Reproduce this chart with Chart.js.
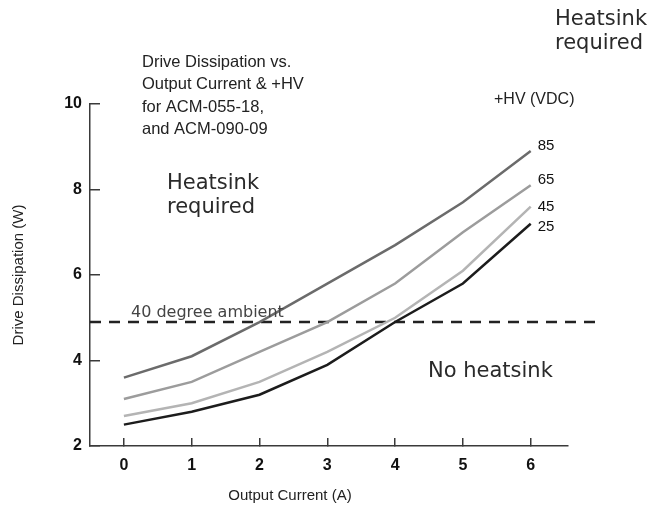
<!DOCTYPE html>
<html>
<head>
<meta charset="utf-8">
<script src="https://cdn.jsdelivr.net/npm/chart.js@4"></script>
<style>
  body { margin: 0; background: #fff; }
</style>
</head>
<body>
<canvas id="dissChart" width="658" height="508"></canvas>
<script>
// readings
const currents = [0, 1, 2, 3, 4, 5, 6];
const hv85 = [3.6, 4.1, 4.9, 5.8, 6.7, 7.7, 8.9];
const hv65 = [3.1, 3.5, 4.2, 4.9, 5.8, 7.0, 8.1];
const hv45 = [2.7, 3.0, 3.5, 4.2, 5.0, 6.1, 7.6];
const hv25 = [2.5, 2.8, 3.2, 3.9, 4.9, 5.8, 7.2];
const hvNames = ['85', '65', '45', '25'];
const yTicks = [2, 4, 6, 8, 10];
const ambientLevel = 4.9;
const ambientFrom = -0.5;
const ambientTo = 6.97;

const toPoints = vals => vals.map((v, i) => ({ x: currents[i], y: v }));

const lineColors = ['#6b6b6b', '#9c9c9c', '#b4b4b4', '#1c1c1c'];
const labelShift = [-5, -5, 0, 3];

const textPlugin = {
    id: 'sheetText',
    afterDraw(chart) {
        const ctx = chart.ctx;
        ctx.save();
        ctx.textAlign = 'left';

        // curve labels at the end of each line
        ctx.font = '15px "Liberation Sans", Arial, sans-serif';
        ctx.fillStyle = '#111';
        ctx.textBaseline = 'middle';
        hvNames.forEach((name, i) => {
            const pts = chart.getDatasetMeta(i).data;
            const last = pts[pts.length - 1];
            ctx.fillText(name, last.x + 7, last.y + labelShift[i]);
        });
        ctx.textBaseline = 'alphabetic';

        ctx.font = '16.5px "Liberation Sans", Arial, sans-serif';
        ctx.fillStyle = '#222';
        ['Drive Dissipation vs.', 'Output Current & +HV', 'for ACM-055-18,', 'and ACM-090-09']
            .forEach((t, i) => ctx.fillText(t, 142, 67 + i * 22.4));

        ctx.font = '16px "Liberation Sans", Arial, sans-serif';
        ctx.fillText('+HV (VDC)', 494, 104);

        ctx.fillStyle = '#2a2a2a';
        ctx.font = '21px "DejaVu Sans", sans-serif';
        ctx.fillText('Heatsink', 555, 25);
        ctx.fillText('required', 555, 49);
        ctx.fillText('Heatsink', 167, 189);
        ctx.fillText('required', 167, 213);
        ctx.fillText('No heatsink', 428, 377);

        ctx.fillStyle = '#444';
        ctx.font = '16px "DejaVu Sans", sans-serif';
        ctx.fillText('40 degree ambient', 131, 317);

        // axis titles
        ctx.fillStyle = '#222';
        ctx.font = '15px "Liberation Sans", Arial, sans-serif';
        ctx.textAlign = 'center';
        ctx.fillText('Output Current (A)', 290, 500);
        ctx.translate(23, 275);
        ctx.rotate(-Math.PI / 2);
        ctx.fillText('Drive Dissipation (W)', 0, 0);
        ctx.restore();
    }
};

const hvSeries = [hv85, hv65, hv45, hv25];

const datasets = hvSeries.map((vals, i) => ({
    label: hvNames[i],
    data: toPoints(vals),
    borderColor: lineColors[i],
    borderWidth: 2.5,
    pointRadius: 0,
    tension: 0,
    fill: false
}));

datasets.push({
    label: '40 degree ambient',
    data: [{ x: ambientFrom, y: ambientLevel }, { x: ambientTo, y: ambientLevel }],
    borderColor: '#222',
    borderWidth: 2.5,
    borderDash: [11, 8],
    pointRadius: 0,
    clip: false,
    fill: false
});

const tickFont = { family: '"Liberation Sans", Arial, sans-serif', size: 16, weight: 'bold' };

const ctx = document.getElementById('dissChart').getContext('2d');

new Chart(ctx, {
    type: 'line',
    data: { datasets: datasets },
    options: {
        responsive: false,
        animation: false,
        layout: { padding: { top: 104, right: 90, left: 0, bottom: 0 } },
        plugins: {
            legend: { display: false },
            tooltip: { enabled: false }
        },
        scales: {
            x: {
                type: 'linear',
                min: -0.5,
                max: 6.55,
                afterBuildTicks: scale => { scale.ticks = currents.map(v => ({ value: v })); },
                afterFit: scale => { scale.height = 62; },
                grid: { drawOnChartArea: false, tickLength: -8, color: '#3a3a3a', lineWidth: 1.5 },
                border: { color: '#3a3a3a', width: 1.5 },
                ticks: { padding: 18, color: '#111', font: tickFont }
            },
            y: {
                min: 2,
                max: 10,
                afterBuildTicks: scale => { scale.ticks = yTicks.map(v => ({ value: v })); },
                afterFit: scale => { scale.width = 90; },
                grid: { drawOnChartArea: false, tickLength: -10, color: '#3a3a3a', lineWidth: 1.5 },
                border: { color: '#3a3a3a', width: 1.5 },
                ticks: { padding: 18, color: '#111', font: tickFont }
            }
        }
    },
    plugins: [textPlugin]
});
</script>
</body>
</html>
